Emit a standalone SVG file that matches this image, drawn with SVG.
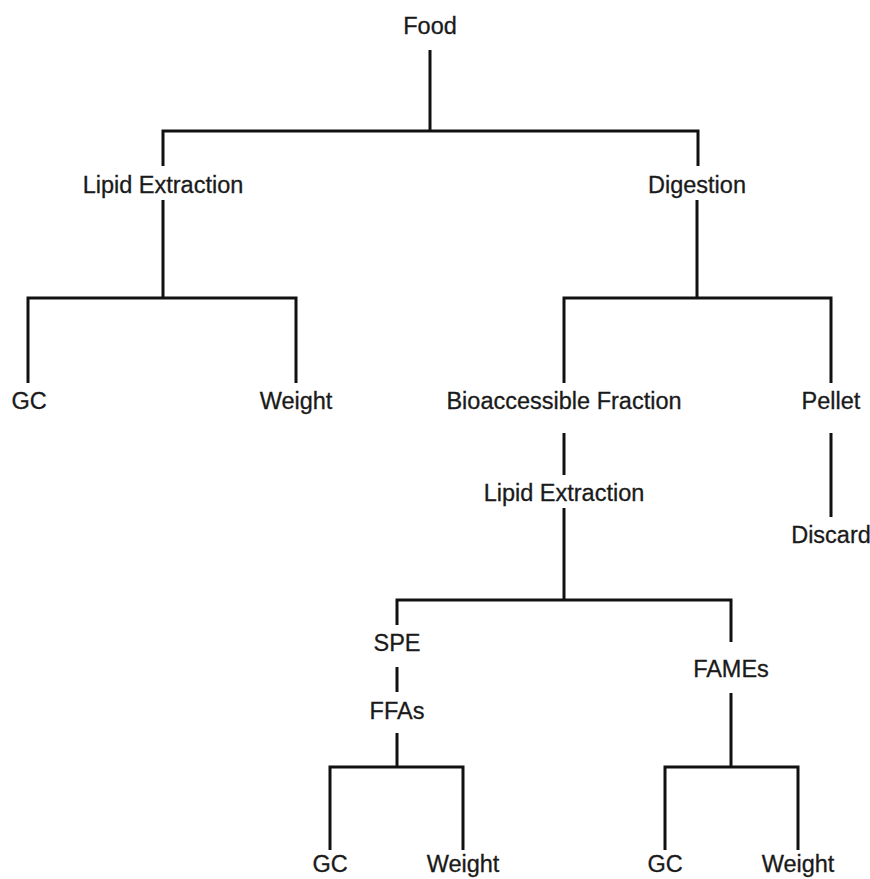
<svg xmlns="http://www.w3.org/2000/svg" width="870" height="879" viewBox="0 0 870 879">
<style>
text{font-family:"Liberation Sans",Arial,sans-serif;font-size:23.5px;fill:#1a1a1a;text-anchor:middle;stroke:#1a1a1a;stroke-width:0.3}
.c path{fill:none;stroke:#111;stroke-width:3;stroke-linecap:butt;stroke-linejoin:miter}
</style>
<rect width="870" height="879" fill="#fff"/>
<g class="c" id="connectors">
<path d="M430,50V131M163,166V131H698V166"/>
<path d="M163,200V298M28,383V298H296V383"/>
<path d="M697,200V298M564,383V298H831V383"/>
<path d="M564,433V475M831,433V517"/>
<path d="M564,508V600M397,625V600H731V642"/>
<path d="M397,667V692M397,733V767M330,850V767H463V850"/>
<path d="M731,693V767M665,850V767H798V850"/>
</g>
<g id="food"><text x="430" y="34">Food</text></g>
<g id="lipid1"><text x="163" y="193">Lipid Extraction</text></g>
<g id="digestion"><text x="697" y="193">Digestion</text></g>
<g id="gc1"><text x="29" y="409">GC</text></g>
<g id="weight1"><text x="296" y="409">Weight</text></g>
<g id="bioacc"><text x="564" y="409">Bioaccessible Fraction</text></g>
<g id="pellet"><text x="831" y="409">Pellet</text></g>
<g id="lipid2"><text x="564" y="501">Lipid Extraction</text></g>
<g id="discard"><text x="831" y="543">Discard</text></g>
<g id="spe"><text x="397" y="651">SPE</text></g>
<g id="ffas"><text x="397" y="719">FFAs</text></g>
<g id="fames"><text x="731" y="677">FAMEs</text></g>
<g id="gc2"><text x="330" y="872">GC</text></g>
<g id="weight2"><text x="463" y="872">Weight</text></g>
<g id="gc3"><text x="665" y="872">GC</text></g>
<g id="weight3"><text x="798" y="872">Weight</text></g>
</svg>
